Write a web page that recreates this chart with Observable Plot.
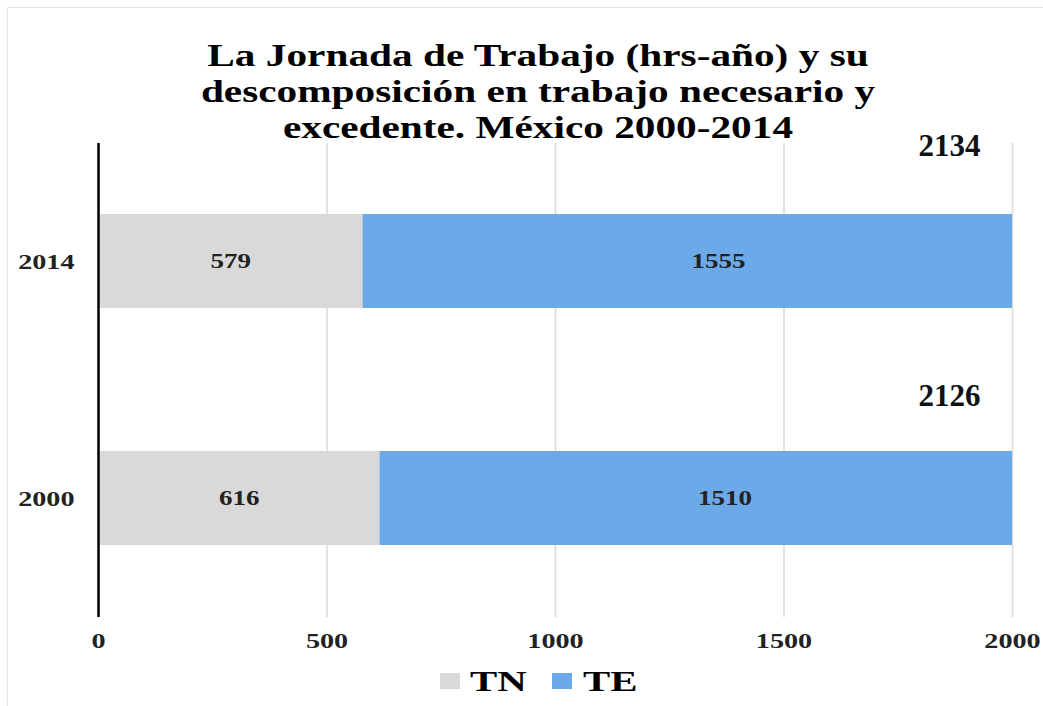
<!DOCTYPE html>
<html>
<head>
<meta charset="utf-8">
<script src="https://cdn.jsdelivr.net/npm/d3@7"></script>
<script src="https://cdn.jsdelivr.net/npm/@observablehq/plot@0.6"></script>
<style>
  html, body { margin: 0; padding: 0; background: #fff; }
  #wrap { position: relative; width: 1043px; height: 706px; overflow: hidden; font-family: "Liberation Serif", "DejaVu Serif", serif; }
  #frame { position: absolute; left: 7px; top: 7px; width: 1060px; height: 720px; border-left: 1.5px solid #e4e4e4; border-top: 1.5px solid #e4e4e4; }
  #chart { position: absolute; left: 0; top: 0; }
  #title { position: absolute; left: 0; width: 1076px; top: 37px; text-align: center; font-weight: bold; font-size: 32px; line-height: 36px; color: #000; transform: scaleX(1.29); transform-origin: 538px 0; }
  .sw { position: absolute; width: 20px; height: 16px; }
  .lb { position: absolute; font-weight: bold; font-size: 30px; line-height: 30px; color: #000; transform-origin: 0 0; white-space: nowrap; }
</style>
</head>
<body>
<div id="wrap">
  <div id="frame"></div>
  <div id="chart"></div>
  <div id="title">La Jornada de Trabajo (hrs-año) y su<br>descomposición en trabajo necesario y<br>excedente. México 2000-2014</div>
  <div id="legend"></div>
</div>
<script>
const years = ["2014", "2000"];
const tnValues = [579, 616];
const teValues = [1555, 1510];
const totals = [2134, 2126];
const xTicks = [0, 500, 1000, 1500, 2000];
const series = ["TN", "TE"];
const colors = ["#d9d9d9", "#6ca9e9"];

const data = years.flatMap((y, i) => [
  {year: y, serie: "TN", value: tnValues[i]},
  {year: y, serie: "TE", value: teValues[i]}
]);
const totalData = years.map((y, i) => ({year: y, total: totals[i]}));

const totalStyle = {y: "year", frameAnchor: "right", text: d => String(d.total), dx: -63,
  fontSize: 31, fontWeight: "bold", fill: "#111", textAnchor: "middle"};

const chart = Plot.plot({
  width: 1043,
  height: 706,
  marginLeft: 98,
  marginRight: 31,
  marginTop: 143,
  marginBottom: 89,
  style: {fontFamily: "Liberation Serif, serif", background: "transparent", color: "#000"},
  x: {domain: [0, 2000], label: null},
  y: {domain: years, paddingInner: 0.603, paddingOuter: 0.3015, label: null},
  color: {domain: series, range: colors},
  marks: [
    Plot.gridX(xTicks.slice(1), {stroke: "#d9d9d9", strokeOpacity: 1, strokeWidth: 1.5}),
    Plot.barX(data, Plot.stackX({x: "value", y: "year", fill: "serie", order: series, clip: true})),
    Plot.text(data, Plot.stackX({x: "value", y: "year", z: "serie", order: series, text: d => String(d.value),
      fontSize: 20, fontWeight: "bold", fill: "#222"})),
    Plot.ruleX([0], {stroke: "#000", strokeWidth: 2.5}),
    Plot.text(totalData.slice(0, 1), {...totalStyle, dy: -115}),
    Plot.text(totalData.slice(1), {...totalStyle, dy: -102}),
    Plot.axisX(xTicks, {tickSize: 0, tickPadding: 15, fontSize: 22, fontWeight: "bold", fill: "#222", tickFormat: d => String(d)}),
    Plot.axisY({tickSize: 0, tickPadding: 24, fontSize: 22, fontWeight: "bold", fill: "#222"})
  ]
});
document.getElementById("chart").appendChild(chart);

// horizontal stretch of the (wide) text as seen in the reference
function stretchGroup(g, s) {
  if (!g) return;
  g.querySelectorAll("text").forEach(t => {
    const w = t.getComputedTextLength();
    t.setAttribute("textLength", (w * s).toFixed(2));
    t.setAttribute("lengthAdjust", "spacingAndGlyphs");
  });
}
stretchGroup(chart.querySelector('g[aria-label="x-axis tick label"]'), 1.28);
stretchGroup(chart.querySelector('g[aria-label="y-axis tick label"]'), 1.28);
stretchGroup(chart.querySelectorAll('g[aria-label="text"]')[0], 1.35);

// legend
const legend = document.getElementById("legend");
const legendPos = [{sw: 440, lb: 470}, {sw: 552, lb: 583}];
series.forEach((s, i) => {
  const sw = document.createElement("div");
  sw.className = "sw";
  sw.style.background = colors[i];
  sw.style.left = legendPos[i].sw + "px";
  sw.style.top = "673px";
  const lb = document.createElement("div");
  lb.className = "lb";
  lb.textContent = s;
  lb.style.left = legendPos[i].lb + "px";
  lb.style.top = "666px";
  lb.style.transform = "scaleX(1.36)";
  legend.appendChild(sw);
  legend.appendChild(lb);
});
</script>
</body>
</html>
